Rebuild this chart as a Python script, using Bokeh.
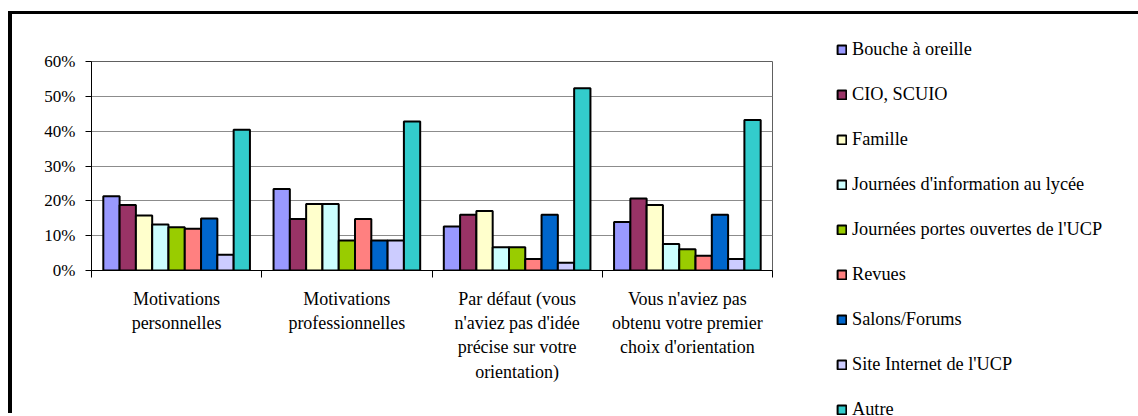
from bokeh.plotting import figure
from bokeh.models import Range1d, FixedTicker, Legend, LegendItem
from bokeh.embed import file_html
from bokeh.resources import INLINE

# ---------------- data ----------------
categories = [
    "Motivations\npersonnelles",
    "Motivations\nprofessionnelles",
    "Par défaut (vous\nn'aviez pas d'idée\nprécise sur votre\norientation)",
    "Vous n'aviez pas\nobtenu votre premier\nchoix d'orientation",
]
series_names = [
    "Bouche à oreille",
    "CIO, SCUIO",
    "Famille",
    "Journées d'information au lycée",
    "Journées portes ouvertes de l'UCP",
    "Revues",
    "Salons/Forums",
    "Site Internet de l'UCP",
    "Autre",
]
bouche_a_oreille = [21.3, 23.4, 12.6, 13.9]
cio_scuio = [18.8, 14.8, 16.0, 20.7]
famille = [15.8, 19.1, 17.1, 18.8]
journees_info_lycee = [13.2, 19.1, 6.7, 7.6]
journees_portes_ouvertes = [12.4, 8.6, 6.7, 6.1]
revues = [12.0, 14.8, 3.3, 4.2]
salons_forums = [14.9, 8.6, 16.0, 16.0]
site_internet_ucp = [4.5, 8.6, 2.2, 3.3]
autre = [40.4, 42.8, 52.3, 43.2]
series_values = [bouche_a_oreille, cio_scuio, famille, journees_info_lycee,
                 journees_portes_ouvertes, revues, salons_forums, site_internet_ucp, autre]
colors = ["#9999FF", "#993366", "#FFFFCC", "#CCFFFF", "#99CC00",
          "#FF8080", "#0066CC", "#CCCCFF", "#33CCCC"]
y_ticks = [0, 10, 20, 30, 40, 50, 60]
y_tick_labels = ["0%", "10%", "20%", "30%", "40%", "50%", "60%"]

FONT = "Liberation Serif"
H = 402
BW = 0.0957
n = len(series_names)


def bar_x(j):
    return [g + 0.5 + (j - (n - 1) / 2) * BW for g in range(len(categories))]


# ---------------- chart ----------------
p = figure(width=788, height=H, output_backend="svg", toolbar_location=None,
           x_range=Range1d(0, len(categories)), y_range=Range1d(0, 60),
           min_border_left=79, min_border_right=28, min_border_top=47, min_border_bottom=146)
p.styles = {"margin-left": "8px", "margin-top": "11px",
            "border-top": "3px solid black", "border-left": "4px solid black"}
p.background_fill_color = "white"
p.border_fill_color = "white"
p.outline_line_color = "#606060"
p.outline_line_width = 1

for j, (name, vals, col) in enumerate(zip(series_names, series_values, colors)):
    p.vbar(x=bar_x(j), top=vals, bottom=0, width=BW, fill_color=col,
           line_color="black", line_width=2)

p.yaxis.ticker = FixedTicker(ticks=y_ticks)
p.yaxis.major_label_overrides = dict(zip(y_ticks, y_tick_labels))
p.yaxis.major_label_text_font = FONT
p.yaxis.major_label_text_font_size = "17px"
p.yaxis.major_label_text_color = "black"
p.yaxis.major_tick_out = 6
p.yaxis.major_tick_in = 0
p.yaxis.minor_tick_line_color = None
p.yaxis.major_label_standoff = 10
p.yaxis.axis_line_color = "black"
p.yaxis.major_tick_line_color = "black"

centers = [g + 0.5 for g in range(len(categories))]
bounds = [float(g) for g in range(len(categories) + 1)]
p.xaxis.ticker = FixedTicker(ticks=centers, minor_ticks=bounds)
p.xaxis.major_label_overrides = dict(zip(centers, categories))
p.xaxis.major_tick_out = 0
p.xaxis.major_tick_in = 0
p.xaxis.minor_tick_out = 7
p.xaxis.minor_tick_in = 0
p.xaxis.minor_tick_line_color = "black"
p.xaxis.major_tick_line_color = None
p.xaxis.axis_line_color = "black"
p.xaxis.major_label_standoff = 11
p.xaxis.major_label_text_font = FONT
p.xaxis.major_label_text_font_size = "18px"
p.xaxis.major_label_text_color = "black"
p.xaxis.major_label_text_line_height = 1.22

p.xgrid.visible = False
p.ygrid.grid_line_color = "#8c8c8c"
p.ygrid.grid_line_width = 1

# ---------------- legend panel (separate root, placed to the right) ----------------
QL = 792
q = figure(width=1138 - QL, height=H, output_backend="svg", toolbar_location=None, title=None,
           x_range=Range1d(100, 101), y_range=Range1d(100, 101),
           x_axis_type=None, y_axis_type=None,
           min_border_left=0, min_border_right=0, min_border_top=0, min_border_bottom=0)
q.styles = {"position": "absolute", "left": f"{QL}px", "top": "11px",
            "border-top": "3px solid black"}
q.outline_line_color = None
q.xgrid.visible = False
q.ygrid.visible = False
q.background_fill_color = "white"
q.border_fill_color = "white"
leg_renderers = []
for j, (vals, col) in enumerate(zip(series_values, colors)):
    r = q.vbar(x=bar_x(j), top=vals, bottom=0, width=BW, fill_color=col,
               line_color="black", line_width=2)
    leg_renderers.append(r)

legend = Legend(items=[LegendItem(label=nm, renderers=[r]) for nm, r in zip(series_names, leg_renderers)],
                location=(836 - QL, -4))
legend.padding = 0
legend.margin = 0
legend.spacing = 24
legend.label_height = 20
legend.glyph_width = 11
legend.glyph_height = 11
legend.label_standoff = 5
legend.label_text_font = FONT
legend.label_text_font_size = "18.3px"
legend.label_text_color = "black"
legend.border_line_color = None
legend.background_fill_alpha = 0
q.add_layout(legend)

open("out.html", "w").write(file_html([p, q], INLINE))
